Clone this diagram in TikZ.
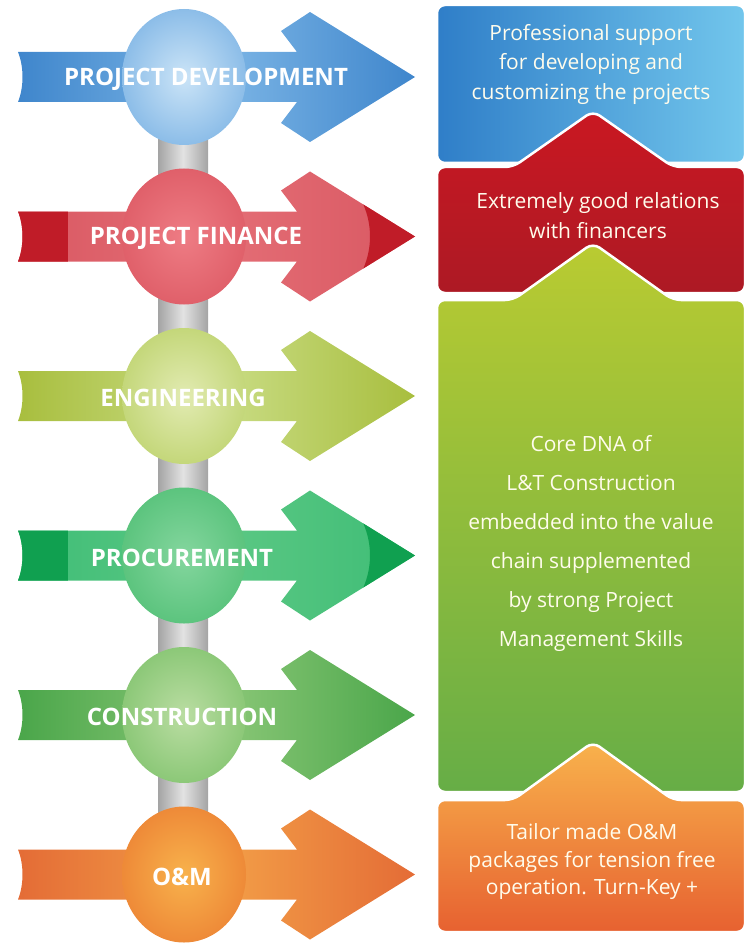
\documentclass[tikz,border=0pt]{standalone}
\usepackage{fontspec}
\setmainfont{Open Sans}
\usetikzlibrary{shapes.geometric}

\definecolor{devside}{HTML}{3F86CC}
\definecolor{devmid}{HTML}{7DB6E6}
\definecolor{devin}{HTML}{CBE4F7}
\definecolor{devout}{HTML}{8CBDE8}
\definecolor{devnoteL}{HTML}{2F7EC8}
\definecolor{devnoteR}{HTML}{72C6EC}
\definecolor{finside}{HTML}{D95862}
\definecolor{finmid}{HTML}{E46E76}
\definecolor{finin}{HTML}{EE7C84}
\definecolor{finout}{HTML}{E0606A}
\definecolor{findark}{HTML}{C01C28}
\definecolor{engside}{HTML}{A8BE3E}
\definecolor{engmid}{HTML}{CADD86}
\definecolor{engin}{HTML}{E2EBB2}
\definecolor{engout}{HTML}{C4D77A}
\definecolor{proside}{HTML}{3EBD76}
\definecolor{promid}{HTML}{5CC884}
\definecolor{proin}{HTML}{84D69E}
\definecolor{proout}{HTML}{5CC47E}
\definecolor{prodark}{HTML}{10A050}
\definecolor{conside}{HTML}{4AA64A}
\definecolor{conmid}{HTML}{8CC878}
\definecolor{conin}{HTML}{BADDA2}
\definecolor{conout}{HTML}{8CC878}
\definecolor{omside}{HTML}{E46C36}
\definecolor{ommid}{HTML}{F3A048}
\definecolor{omin}{HTML}{F8B24C}
\definecolor{omout}{HTML}{EE8A38}
\definecolor{rodedge}{HTML}{A4A4A4}
\definecolor{rodmid}{HTML}{E2E2E2}
\definecolor{notetext}{HTML}{FFFCEC}

\begin{document}
\begin{tikzpicture}[
    x=1pt, y=-1pt,
    twotone/.style={path picture={
        \fill[#1] (18,\c-30) rectangle (68,\c+30);
        \fill[#1, even odd rule] (290,\c) circle (80pt) (200,\c-90) rectangle (430,\c+90);}},
    devtone/.style={}, fintone/.style={twotone=findark}, engtone/.style={},
    protone/.style={twotone=prodark}, contone/.style={}, omtone/.style={},
    ball/.style={ellipse, minimum width=124pt, minimum height=136pt, inner sep=0pt},
    stagelabel/.style={text=white, font=\fontsize{24}{28}\selectfont\bfseries},
    rod/.style={left color=rodedge, right color=rodedge, middle color=rodmid},
    note/.style={draw=white, line width=2.5pt, rounded corners=8pt},
    notetext/.style={text=notetext, align=center, font=\fontsize{21}{#1}\selectfont},
    notetext/.default=29.5
]
\useasboundingbox (0,0) rectangle (755,944);

% grey rod behind the balls
\path[rod] (158,77) rectangle (208,874);

\foreach \c/\nm/\lx/\txt in {77/dev/206/PROJECT DEVELOPMENT, 236.5/fin/196/PROJECT FINANCE,
    396/eng/183/ENGINEERING, 555.5/pro/182/PROCUREMENT,
    715/con/182/CONSTRUCTION, 874.5/om/182/O\&M}{
  \path[\nm tone, left color=\nm side, right color=\nm side, middle color=\nm mid]
    (18,\c-25) -- (297,\c-25) -- (281,\c-46) -- (310,\c-65) -- (415,\c)
    -- (310,\c+65) -- (281,\c+46) -- (297,\c+25) -- (18,\c+25)
    .. controls (24,\c+10) and (24,\c-10) .. (18,\c-25) -- cycle;
  \node[ball, inner color=\nm in, outer color=\nm out] (\nm) at (184,\c) {};
  \node[stagelabel] (\nm lbl) at (\lx,\c+2) {\txt};
}

% notes on the right
\path[note, left color=devnoteL, right color=devnoteR] (437,5) rectangle (745,163);
\path[note, top color=findark!85!red, bottom color=findark!90!black]
  (437,293) -- (437,167) -- (513,167) -- (593,111) -- (673,167) -- (745,167) -- (745,293) -- cycle;
\path[note, top color=engside!80!yellow, bottom color=conside!70!engside]
  (437,792) -- (437,300) -- (513,300) -- (593,243) -- (673,300) -- (745,300) -- (745,792) -- cycle;
\path[note, top color=omin, bottom color=omside!90!red]
  (437,932) -- (437,800) -- (513,800) -- (593,742) -- (673,800) -- (745,800) -- (745,932) -- cycle;

\node[notetext] (devnote) at (591,64) {Professional support\\for developing and\\customizing the projects};
\node[notetext=30] (finnote) at (598,216) {Extremely good relations\\with financers};
\node[notetext=39] (engnote) at (591,543) {Core DNA of\\L\&T Construction\\embedded into the value\\chain supplemented\\by strong Project\\Management Skills};
\node[notetext=27.5] (omnote) at (592,862) {Tailor made O\&M\\packages for tension free\\operation. Turn-Key +};
\end{tikzpicture}
\end{document}
